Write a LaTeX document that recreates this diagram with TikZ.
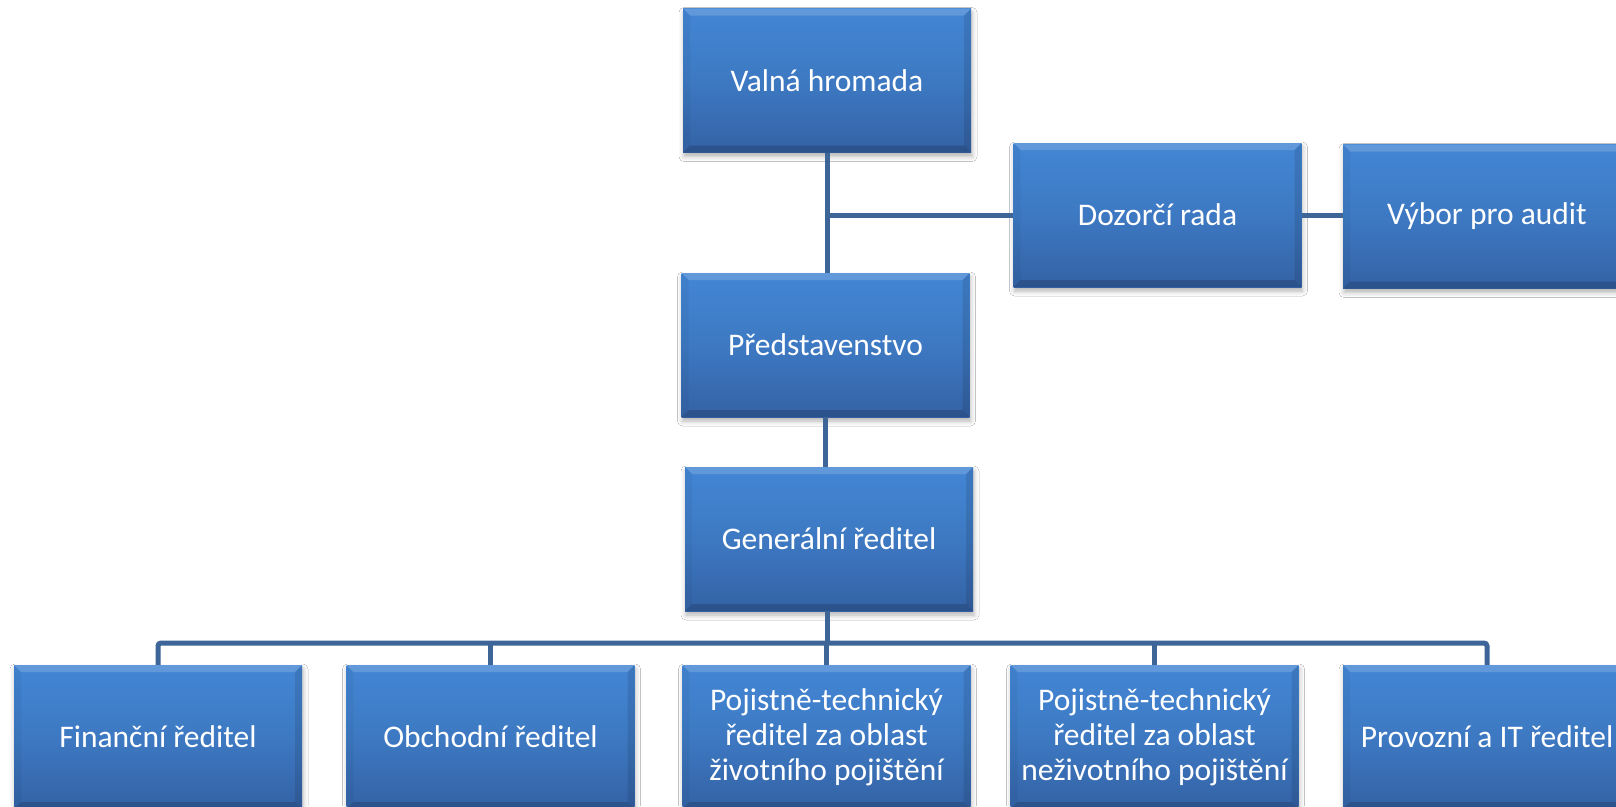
\documentclass[tikz,border=0pt]{standalone}
\usepackage{fontspec}
\setmainfont{Carlito}
\usetikzlibrary{shadows.blur}
\definecolor{lineblue}{HTML}{3D6598}
\definecolor{boxtop}{HTML}{4386D5}
\definecolor{boxmid}{HTML}{3D79C2}
\definecolor{boxbot}{HTML}{3462A5}
\tikzset{
  orgbox/.style={rectangle, minimum width=288pt, minimum height=144pt, inner sep=0pt,
    top color=boxtop, bottom color=boxbot, middle color=boxmid,
    text=white, align=center, font=\fontsize{31.5}{35}\selectfont,
    blur shadow={shadow xshift=1pt, shadow yshift=-4pt, shadow blur radius=5pt, shadow opacity=30},
    path picture={
      \fill[white, fill opacity=0.16] (path picture bounding box.north west) -- (path picture bounding box.north east)
        -- ([xshift=-7pt,yshift=-7pt]path picture bounding box.north east)
        -- ([xshift=7pt,yshift=-7pt]path picture bounding box.north west) -- cycle;
      \fill[black, fill opacity=0.04] (path picture bounding box.north west) -- ([xshift=7pt,yshift=-7pt]path picture bounding box.north west)
        -- ([xshift=7pt,yshift=7pt]path picture bounding box.south west)
        -- (path picture bounding box.south west) -- cycle;
      \fill[black, fill opacity=0.10] (path picture bounding box.north east) -- ([xshift=-7pt,yshift=-7pt]path picture bounding box.north east)
        -- ([xshift=-7pt,yshift=7pt]path picture bounding box.south east)
        -- (path picture bounding box.south east) -- cycle;
      \fill[black, fill opacity=0.16] (path picture bounding box.south west) -- ([xshift=7pt,yshift=7pt]path picture bounding box.south west)
        -- ([xshift=-7pt,yshift=7pt]path picture bounding box.south east)
        -- (path picture bounding box.south east) -- cycle;
    }},
  conn/.style={draw=lineblue, line width=5pt}
}
\begin{document}
\begin{tikzpicture}[x=1pt,y=-1pt]
\useasboundingbox[fill=white] (0,0) rectangle (1616,806);
\node[orgbox] (valna) at (827,80.5) {Valná hromada};
\node[orgbox] (pred) at (825.5,345) {Představenstvo};
\node[orgbox] (gen) at (829,539) {Generální ředitel};
\node[orgbox] (dozor) at (1157.5,215) {Dozorčí rada};
\node[orgbox] (vybor) at (1487,216.5) {Výbor pro audit};
\node[orgbox] (fin) at (158,737) {Finanční ředitel};
\node[orgbox] (obch) at (490.5,737) {Obchodní ředitel};
\node[orgbox] (ziv) at (826.5,737) {Pojistně-technický\\ředitel za oblast\\životního pojištění};
\node[orgbox] (neziv) at (1154.5,737) {Pojistně-technický\\ředitel za oblast\\neživotního pojištění};
\node[orgbox] (prov) at (1487,737) {Provozní a IT ředitel};
\coordinate (bus) at (827,643);
\draw[conn] (valna.south) -- (valna.south |- pred.north);
\draw[conn] (valna.south |- dozor.west) -- (dozor.west);
\draw[conn] (dozor.east) -- (dozor.east -| vybor.west);
\draw[conn] (pred.south) -- (pred.south |- gen.north);
\draw[conn] (bus |- gen.south) -- (bus);
\draw[conn, rounded corners=3pt] (fin.north) |- (bus) -| (prov.north);
\draw[conn] (obch.north) -- (obch.north |- bus);
\draw[conn] (ziv.north) -- (ziv.north |- bus);
\draw[conn] (neziv.north) -- (neziv.north |- bus);
\end{tikzpicture}
\end{document}
